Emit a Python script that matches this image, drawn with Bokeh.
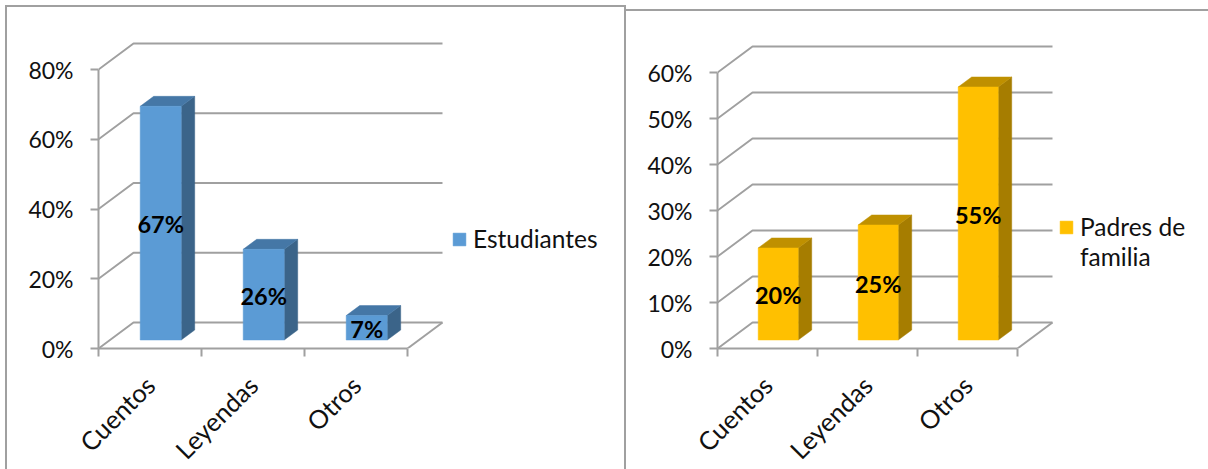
from bokeh.plotting import figure
from bokeh.layouts import row
from bokeh.embed import file_html
from bokeh.resources import INLINE
from bokeh.models import (Range1d, LinearAxis, FixedTicker, PrintfTickFormatter, Div,
                          Legend, LegendItem, ColumnDataSource)
from bokeh.core.properties import value
from math import pi

categories = ["Cuentos", "Leyendas", "Otros"]
estudiantes = [67, 26, 7]
padres = [20, 25, 55]
ticks_est = [0, 20, 40, 60, 80]
ticks_pad = [0, 10, 20, 30, 40, 50, 60]

FONT = "Lato"
GRAY = "#a0a0a0"
HEIGHT = 469
AX_Y = 348


def chart(values, yticks, names, colors, width, ax_x, cat_px, y_px, half_px, legend_xy):
    front, side, top = colors
    p = figure(width=width, height=HEIGHT, frame_width=width - ax_x, frame_height=AX_Y,
               output_backend="svg", toolbar_location=None,
               x_axis_location=None, y_axis_location=None,
               min_border_left=ax_x, min_border_right=0, min_border_top=0,
               min_border_bottom=HEIGHT - AX_Y, outline_line_color=None,
               x_range=Range1d(0, (width - ax_x) / cat_px), y_range=Range1d(0, AX_Y / y_px))
    p.grid.visible = False
    p.background_fill_color = None
    p.border_fill_color = None

    # pixel offsets of the pseudo-3D projection, expressed in data units
    wall_dx, wall_dy = 35 / cat_px, 26 / y_px
    bar_dx, bar_dy = 10.7 / cat_px, 8.5 / y_px
    side_dx, side_dy = 13.5 / cat_px, 10 / y_px
    half = half_px / cat_px
    n = len(categories)

    # floor and back wall
    xs = [[0, wall_dx, n + wall_dx] for _ in yticks]
    ys = [[t, t + wall_dy, t + wall_dy] for t in yticks]
    p.multi_line(xs, ys, line_color=GRAY, line_width=2)
    p.line([n, n + wall_dx], [0, wall_dy], line_color=GRAY, line_width=2)

    # bars
    centers = [i + 0.5 + bar_dx for i in range(n)]
    base = [bar_dy] * n
    tops = [v + bar_dy for v in values]
    lefts = [c - half for c in centers]
    rights = [c + half for c in centers]
    p.patches([[r, r + side_dx, r + side_dx, r] for r in rights],
              [[b, b + side_dy, t + side_dy, t] for b, t in zip(base, tops)],
              fill_color=side, line_color=side, line_width=0.5)
    p.patches([[l, l + side_dx, r + side_dx, r] for l, r in zip(lefts, rights)],
              [[t, t + side_dy, t + side_dy, t] for t in tops],
              fill_color=top, line_color=top, line_width=0.5)
    bars = p.quad(left=lefts, right=rights, bottom=base, top=tops,
                  fill_color=front, line_color=front, line_width=0.5)

    # data labels
    src = ColumnDataSource(dict(x=centers, y=[(b + t) / 2 for b, t in zip(base, tops)],
                                t=[f"{v}%" for v in values]))
    p.text("x", "y", text="t", source=src, text_align="center", text_baseline="middle",
           text_font=value(FONT), text_font_style="bold", text_font_size="23.5px", text_color="#000000",
           y_offset=1)

    # axes
    yaxis = LinearAxis(ticker=FixedTicker(ticks=yticks), bounds=(yticks[0], yticks[-1]),
                       formatter=PrintfTickFormatter(format="%d%%"))
    xaxis = LinearAxis(ticker=FixedTicker(ticks=[i + 0.5 for i in range(n)], minor_ticks=list(range(n + 1))),
                       bounds=(0, n),
                       major_label_overrides={i + 0.5: c for i, c in enumerate(categories)})
    xaxis.major_label_orientation = pi / 4
    xaxis.major_tick_line_color = None
    xaxis.major_tick_out = 0
    xaxis.major_tick_in = 0
    xaxis.minor_tick_out = 8
    xaxis.minor_tick_in = 0
    xaxis.minor_tick_line_color = GRAY
    xaxis.minor_tick_line_width = 2
    xaxis.major_label_standoff = 24
    xaxis.major_label_text_font_size = "25.5px"
    yaxis.major_tick_out = 8
    yaxis.major_tick_in = 0
    yaxis.major_tick_line_color = GRAY
    yaxis.major_tick_line_width = 2
    yaxis.minor_tick_line_color = None
    yaxis.major_label_standoff = 17
    yaxis.major_label_text_font_size = "23px"
    for ax in (xaxis, yaxis):
        ax.axis_line_color = GRAY
        ax.axis_line_width = 2
        ax.major_label_text_font = FONT
        ax.major_label_text_color = "#111111"
    p.add_layout(yaxis, "left")
    p.add_layout(xaxis, "below")

    blank = p.quad(left=[], right=[], bottom=[], top=[], fill_alpha=0, line_alpha=0)
    items = [LegendItem(label=names[0], renderers=[bars])]
    items += [LegendItem(label=nm, renderers=[blank]) for nm in names[1:]]
    legend = Legend(items=items, location=legend_xy,
                    border_line_color=None, background_fill_alpha=0, margin=0, padding=0,
                    glyph_width=16, glyph_height=16, label_standoff=6, spacing=1,
                    label_text_font=FONT, label_text_font_size="24.5px", label_text_color="#111111",
                    label_height=14, click_policy="none")
    p.add_layout(legend, "center")
    return p


p1 = chart(estudiantes, ticks_est, ["Estudiantes"], ("#5b9bd5", "#3b6489", "#4577a6"),
           626, 98, 103, 3.4875, 20.5, (353, 95))
p2 = chart(padres, ticks_pad, ["Padres de", "familia"], ("#ffc000", "#a67d00", "#bf9000"),
           582, 91, 100, 4.6, 20, (341, 77))

border = f"2px solid {GRAY}"
frame1 = Div(text="", width=621, height=464, margin=0,
             styles={"position": "absolute", "left": "5px", "top": "5px", "box-sizing": "border-box",
                     "border-left": border, "border-top": border, "border-right": border})
frame2 = Div(text="", width=582, height=2, margin=0,
             styles={"position": "absolute", "left": "626px", "top": "9px", "box-sizing": "border-box",
                     "border-top": border})

page = row(frame1, frame2, p1, p2, spacing=0)
open("out.html", "w").write(file_html(page, INLINE))
